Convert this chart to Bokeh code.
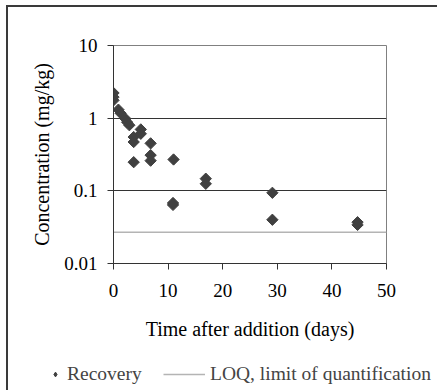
from bokeh.plotting import figure
from bokeh.models import FixedTicker, Legend, LegendItem, ColumnDataSource, Range1d
from bokeh.layouts import column, row
from bokeh.embed import file_html
from bokeh.resources import INLINE
import math

# Data
days = [0, 0, 0, 0.9, 1.3, 2.2, 2.5, 2.9, 3.7, 3.7, 3.7, 5.0, 5.0,
        6.8, 6.8, 6.8, 11.0, 10.9, 10.9, 16.9, 16.9, 29.1, 29.1, 44.7, 44.7]
conc = [2.22, 1.95, 1.76, 1.31, 1.17, 0.98, 0.88, 0.80, 0.55, 0.47, 0.248, 0.70, 0.61,
        0.45, 0.31, 0.26, 0.27, 0.068, 0.064, 0.147, 0.125, 0.094, 0.040, 0.037, 0.034]
loq_x = [0, 50]
loq_y = [0.027, 0.027]
x_ticks = [0, 10, 20, 30, 40, 50]
y_ticks = [0.01, 0.1, 1, 10]
y_tick_labels = ["0.01", "0.1", "1", "10"]
series_names = ["Recovery", "LOQ, limit of quantification"]

FONT = "Liberation Serif"
MARK = "#404040"
LOQ_COLOR = "#b4b4b4"
NAN = float("nan")

W = 429
p = figure(width=W, height=343, y_axis_type="log",
           x_range=(0, 50), y_range=(0.01, 10),
           output_backend="svg", toolbar_location=None,
           min_border_left=105, min_border_right=W - 105 - 273,
           min_border_top=38, min_border_bottom=87)

p.background_fill_color = "white"
p.border_fill_color = "white"
p.outline_line_color = "#808080"
p.outline_line_width = 1

loq = p.line(loq_x, loq_y, line_color=LOQ_COLOR, line_width=1.5)
src = ColumnDataSource(dict(x=days, y=conc))
rec = p.scatter("x", "y", source=src, marker="square", angle=math.pi / 4,
                size=8, fill_color=MARK, line_color=MARK)

# axes
p.xaxis.ticker = FixedTicker(ticks=x_ticks)
p.yaxis.ticker = FixedTicker(ticks=y_ticks, minor_ticks=[])
p.yaxis.major_label_overrides = {t: l for t, l in zip(y_ticks, y_tick_labels)}
for ax in (p.xaxis[0], p.yaxis[0]):
    ax.axis_line_color = "#333333"
    ax.major_tick_line_color = "#333333"
    ax.major_tick_out = 6
    ax.major_tick_in = 0
    ax.minor_tick_out = 0
    ax.minor_tick_in = 0
    ax.major_label_text_font = FONT
    ax.major_label_text_font_size = "19px"
    ax.major_label_text_color = "black"
    ax.axis_label_text_font = FONT
    ax.axis_label_text_font_size = "20px"
    ax.axis_label_text_font_style = "normal"
    ax.axis_label_text_color = "black"

p.xaxis.axis_label = "Time after addition (days)"
p.yaxis.axis_label = "Concentration (mg/kg)"
p.xaxis.major_label_standoff = 14
p.xaxis.axis_label_standoff = 18
p.yaxis.major_label_standoff = 10
p.yaxis.axis_label_standoff = 8

p.xgrid.grid_line_color = None
p.ygrid.ticker = FixedTicker(ticks=y_ticks)
p.ygrid.grid_line_color = "#333333"
p.ygrid.grid_line_width = 1

# legend panel below the chart
lf = figure(width=W, height=40, output_backend="svg", toolbar_location=None,
            x_range=Range1d(0, 1), y_range=Range1d(0, 1),
            min_border_left=0, min_border_right=0, min_border_top=0, min_border_bottom=0)
lf.axis.visible = False
lf.grid.grid_line_color = None
lf.outline_line_color = None
lf.border_fill_color = "white"
d_rec = lf.scatter([NAN], [NAN], marker="diamond", size=14,
                   fill_color=MARK, line_color=MARK)
d_loq = lf.line([NAN, NAN], [NAN, NAN], line_color=LOQ_COLOR, line_width=1.5)

common = dict(padding=0, margin=0, border_line_color=None, background_fill_alpha=0,
              label_text_font=FONT, label_text_font_size="19.5px", glyph_height=20,
              label_height=20)
leg1 = Legend(items=[LegendItem(label=series_names[0], renderers=[d_rec])],
              location=(41, 5), glyph_width=12, label_standoff=6, **common)
leg2 = Legend(items=[LegendItem(label=series_names[1], renderers=[d_loq])],
              location=(155, 5), glyph_width=42, label_standoff=5, **common)
lf.add_layout(leg1, "center")
lf.add_layout(leg2, "center")

layout = column(p, row(lf), spacing=0,
                styles={"margin-left": "6px", "margin-top": "5px",
                        "border-left": "2px solid #3a3a3a",
                        "border-top": "2px solid #3a3a3a",
                        "border-right": "none", "border-bottom": "none"})

open("out.html", "w").write(file_html(layout, INLINE))
